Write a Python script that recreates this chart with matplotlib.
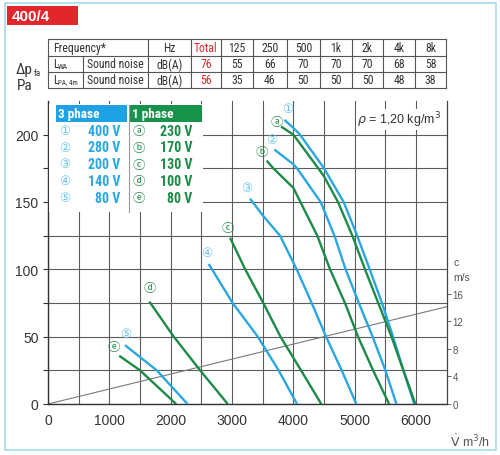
import matplotlib
matplotlib.use("Agg")
import matplotlib.pyplot as plt
from matplotlib.patches import Rectangle
from matplotlib.lines import Line2D

plt.rcParams["font.family"] = ["Liberation Sans", "DejaVu Sans"]

# ---------------- data ----------------
title = "400/4"
freq_header = ["Hz", "Total", "125", "250", "500", "1k", "2k", "4k", "8k"]
lwa_values = ["dB(A)", "76", "55", "66", "70", "70", "70", "68", "58"]
lpa_values = ["dB(A)", "56", "35", "46", "50", "50", "50", "48", "38"]

three_phase_ids = ["\u2460", "\u2461", "\u2462", "\u2463", "\u2464"]
three_phase_volts = ["400 V", "280 V", "200 V", "140 V", "80 V"]
one_phase_ids = ["\u24d0", "\u24d1", "\u24d2", "\u24d3", "\u24d4"]
one_phase_volts = ["230 V", "170 V", "130 V", "100 V", "80 V"]

# 3 phase curves (flow m3/h, pressure Pa)
q_400 = [3853, 4000, 4109, 4500, 4820, 5040, 5245, 5445, 5625, 5795, 5970]
p_400 = [211, 205, 200, 175, 150, 125, 100, 75, 50, 25, 0]
q_280 = [3690, 4000, 4060, 4445, 4670, 4852, 5068, 5292, 5500, 5680]
p_280 = [189, 178, 175, 150, 125, 100, 75, 50, 25, 0]
q_200 = [3294, 3511, 3783, 4054, 4299, 4533, 4788, 5027]
p_200 = [152.5, 139.5, 125, 100, 75, 50, 25, 0]
q_140 = [2620, 3010, 3420, 3760, 4060]
p_140 = [104, 75, 50, 25, 0]
q_80_3 = [1255, 1773, 2275]
p_80_3 = [43.7, 25, 0]

# 1 phase curves
q_230 = [3800, 4000, 4407, 4500, 4728, 4962, 5168, 5384, 5600, 5793, 5990]
p_230 = [206, 200, 175, 169, 150, 125, 100, 75, 50, 25, 0]
q_170 = [3565, 3674, 4000, 4115, 4390, 4598, 4842, 5054, 5300, 5560]
p_170 = [180.7, 175, 160.5, 150, 125, 100, 75, 50, 25, 0]
q_130 = [2968, 3215, 3510, 3790, 4125, 4455]
p_130 = [123.5, 100, 75, 50, 25, 0]
q_100 = [1653, 2050, 2480, 2930]
p_100 = [76, 50, 25, 0]
q_80_1 = [1162, 1500, 2089]
p_80_1 = [35.8, 25, 0]

# duct velocity line (flow m3/h, velocity m/s)
q_vel = [0, 6500]
c_vel = [0, 14.15]

x_ticks = [0, 1000, 2000, 3000, 4000, 5000, 6000]
y_ticks = [0, 50, 100, 150, 200]
c_ticks = [0, 4, 8, 12, 16]

# ---------------- styles ----------------
W, H = 500, 456
BLUE = "#2aa7e1"
BLUE_LIGHT = "#6cc3ea"
GREEN = "#1d8a47"
RED = "#e2272c"
DARK = "#333333"
GRID = "#5c5c5c"
NARROW = ["Liberation Sans Narrow", "DejaVu Sans Condensed", "Roboto Condensed",
          "Roboto", "DejaVu Sans"]
SYM = ["DejaVu Sans", "Noto Sans CJK JP"]

fig = plt.figure(figsize=(W / 100, H / 100), dpi=100)


def fx(x):
    return x / W


def fy(y):
    return 1 - y / H


def ftext(x, y, s, **kw):
    return fig.text(fx(x), fy(y), s, **kw)


def fline(x0, y0, x1, y1, **kw):
    fig.add_artist(Line2D([fx(x0), fx(x1)], [fy(y0), fy(y1)],
                          transform=fig.transFigure, **kw))


def frect(x0, y0, x1, y1, **kw):
    fig.add_artist(Rectangle((fx(x0), fy(y1)), fx(x1) - fx(x0), fy(y0) - fy(y1),
                             transform=fig.transFigure, **kw))


# outer border
frect(5, 4, 496, 451, facecolor="none", edgecolor="#a6dbe7", linewidth=1.2)

# title box
frect(7, 7, 78, 26, facecolor=RED, edgecolor="none")
ftext(12, 17, title, color="white", fontsize=11, fontweight="bold",
      va="center", ha="left")

# ---------------- table ----------------
col_edges = [147.7, 191, 221, 253.3, 286.7, 320, 351.7, 383.3, 415, 446]
row_edges = [40, 57, 73, 89]
tl, tr = 48.3, 446
tcol = "#555555"
for y in row_edges:
    fline(tl, y, tr, y, color=tcol, linewidth=0.8)
for x in [tl] + col_edges:
    fline(x, row_edges[0], x, row_edges[-1], color=tcol, linewidth=0.8)
fline(83.3, row_edges[1], 83.3, row_edges[-1], color=tcol, linewidth=0.8)

row_c = [48.5, 65, 81]
centers = [(col_edges[i] + col_edges[i + 1]) / 2 for i in range(len(col_edges) - 1)]
tfs = 8.5
ftext(53, row_c[0], "Frequency*", fontsize=tfs, family=NARROW, color=DARK,
      va="center", ha="left")
for i, s in enumerate(freq_header):
    ftext(centers[i], row_c[0], s, fontsize=tfs, family=NARROW,
          color=RED if i == 1 else DARK, va="center", ha="center")
for r, vals in ((1, lwa_values), (2, lpa_values)):
    for i, s in enumerate(vals):
        ftext(centers[i], row_c[r], s, fontsize=tfs, family=NARROW,
              color=RED if i == 1 else DARK, va="center", ha="center")
    ftext(115.5, row_c[r], "Sound noise", fontsize=tfs, family=NARROW,
          color=DARK, va="center", ha="center")
ftext(53, row_c[1] - 1, "L", fontsize=tfs, family=NARROW, color=DARK,
      va="center", ha="left")
ftext(58, row_c[1] + 2, "WA", fontsize=5.5, family=NARROW, color=DARK,
      va="center", ha="left")
ftext(53, row_c[2] - 1, "L", fontsize=tfs, family=NARROW, color=DARK,
      va="center", ha="left")
ftext(58, row_c[2] + 2, "PA, 4m", fontsize=5, family=NARROW, color=DARK,
      va="center", ha="left")

# y label (above the axis)
ftext(16, 70, "\u0394p", fontsize=11, family=NARROW, color=DARK,
      va="center", ha="left")
ftext(33.5, 74, "fa", fontsize=6.5, family=NARROW, color=DARK,
      va="center", ha="left")
ftext(17, 86, "Pa", fontsize=11, family=NARROW, color=DARK,
      va="center", ha="left")

# ---------------- axes ----------------
ax_l, ax_r, ax_t, ax_b = 48, 446.7, 102, 405
ax = fig.add_axes([fx(ax_l), fy(ax_b), fx(ax_r) - fx(ax_l), fy(ax_t) - fy(ax_b)])
ax.set_xlim(0, 6500)
ax.set_ylim(0, 225)
ax.set_xticks(x_ticks)
ax.set_xticks([500, 1500, 2500, 3500, 4500, 5500], minor=True)
ax.set_yticks(y_ticks)
ax.set_yticks([25, 75, 125, 175], minor=True)
ax.grid(True, which="both", color=GRID, linewidth=0.8)
ax.set_axisbelow(True)
ax.tick_params(axis="x", which="both", length=0, pad=6.5, labelsize=10,
               labelcolor=DARK)
ax.tick_params(axis="y", which="both", length=3.6, width=0.8, color=DARK,
               pad=3.2, labelsize=10, labelcolor=DARK, direction="out")
for s in ("top", "right"):
    ax.spines[s].set_visible(False)
for s in ("left", "bottom"):
    ax.spines[s].set_color(DARK)
    ax.spines[s].set_linewidth(1.0)

ax2 = ax.twinx()
ax2.set_ylim(0, 44.07)
ax2.set_yticks(c_ticks)
ax2.tick_params(axis="y", length=2.8, width=0.7, color="#666666", pad=1.5,
                labelsize=7, labelcolor="#555555")
for s in ("top", "left", "bottom"):
    ax2.spines[s].set_visible(False)
ax2.spines["right"].set_color("#444444")
ax2.spines["right"].set_linewidth(0.9)
ax2.patch.set_visible(False)

# velocity line (on the velocity scale)
ax.plot(q_vel, c_vel, color="#7a7a7a", linewidth=0.8, transform=ax2.transData,
        zorder=2)

blue_curves = [(q_400, p_400), (q_280, p_280), (q_200, p_200),
               (q_140, p_140), (q_80_3, p_80_3)]
green_curves = [(q_230, p_230), (q_170, p_170), (q_130, p_130),
                (q_100, p_100), (q_80_1, p_80_1)]
blue_offsets = [(3.4, 11), (-2.6, 10), (-3.3, 11.3), (-1.7, 11), (0.7, 12)]
green_offsets = [(-4, 5.5), (-4.3, 8.7), (-2, 10), (0.7, 14), (-5, 9.4)]

for (q, p), sym, off in zip(blue_curves, three_phase_ids, blue_offsets):
    ax.plot(q, p, color=BLUE, linewidth=1.7, solid_capstyle="butt",
            solid_joinstyle="round", zorder=3)
    ax.annotate(sym, (q[0], p[0]), xytext=off, textcoords="offset pixels",
                ha="center", va="center", fontsize=9, color=BLUE_LIGHT,
                family=SYM, zorder=5)
for (q, p), sym, off in zip(green_curves, one_phase_ids, green_offsets):
    ax.plot(q, p, color=GREEN, linewidth=1.7, solid_capstyle="butt",
            solid_joinstyle="round", zorder=4)
    ax.annotate(sym, (q[0], p[0]), xytext=off, textcoords="offset pixels",
                ha="center", va="center", fontsize=9, color=GREEN,
                family=SYM, zorder=5)

# density note
ax.text(0.985, 0.94, r"$\rho$ = 1,20 kg/m$^3$", transform=ax.transAxes,
        ha="right", va="center", fontsize=9, color=DARK,
        bbox=dict(facecolor="white", edgecolor="none", pad=0.5), zorder=6)

# right axis annotations
ftext(456.5, 263, "c", fontsize=7.5, color="#555555", va="center", ha="center")
ftext(461.5, 278, "m/s", fontsize=7.5, color="#555555", va="center", ha="center")
ftext(470, 442, r"$\dot{\rm V}$ m$^3$/h", fontsize=9, color="#555555",
      va="center", ha="center")

# ---------------- legend ----------------
frect(49, 105, 203.5, 213, facecolor="white", edgecolor="none")
frect(56, 106, 127.3, 123.3, facecolor="#1fa1e6", edgecolor="none")
frect(129.3, 106, 202.3, 123.3, facecolor="#17924a", edgecolor="none")
ftext(58, 114.8, "3 phase", fontsize=9.5, fontweight="bold", color="white",
      family=NARROW, va="center", ha="left")
ftext(132, 114.8, "1 phase", fontsize=9.5, fontweight="bold", color="white",
      family=NARROW, va="center", ha="left")
fline(128.6, 106, 128.6, 213, color="#9a9a9a", linewidth=0.8)
leg_rows = [131.7, 148.3, 165, 181.7, 199]
for y, s, v in zip(leg_rows, three_phase_ids, three_phase_volts):
    ftext(65, y, s, fontsize=9, color=BLUE_LIGHT, family=SYM,
          va="center", ha="center")
    ftext(120, y, v, fontsize=10, fontweight="bold", color=BLUE,
          family=NARROW, va="center", ha="right")
for y, s, v in zip(leg_rows, one_phase_ids, one_phase_volts):
    ftext(139, y, s, fontsize=9, color=GREEN, family=SYM,
          va="center", ha="center")
    ftext(192.7, y, v, fontsize=10, fontweight="bold", color=GREEN,
          family=NARROW, va="center", ha="right")

fig.savefig("out.png", dpi=100)
